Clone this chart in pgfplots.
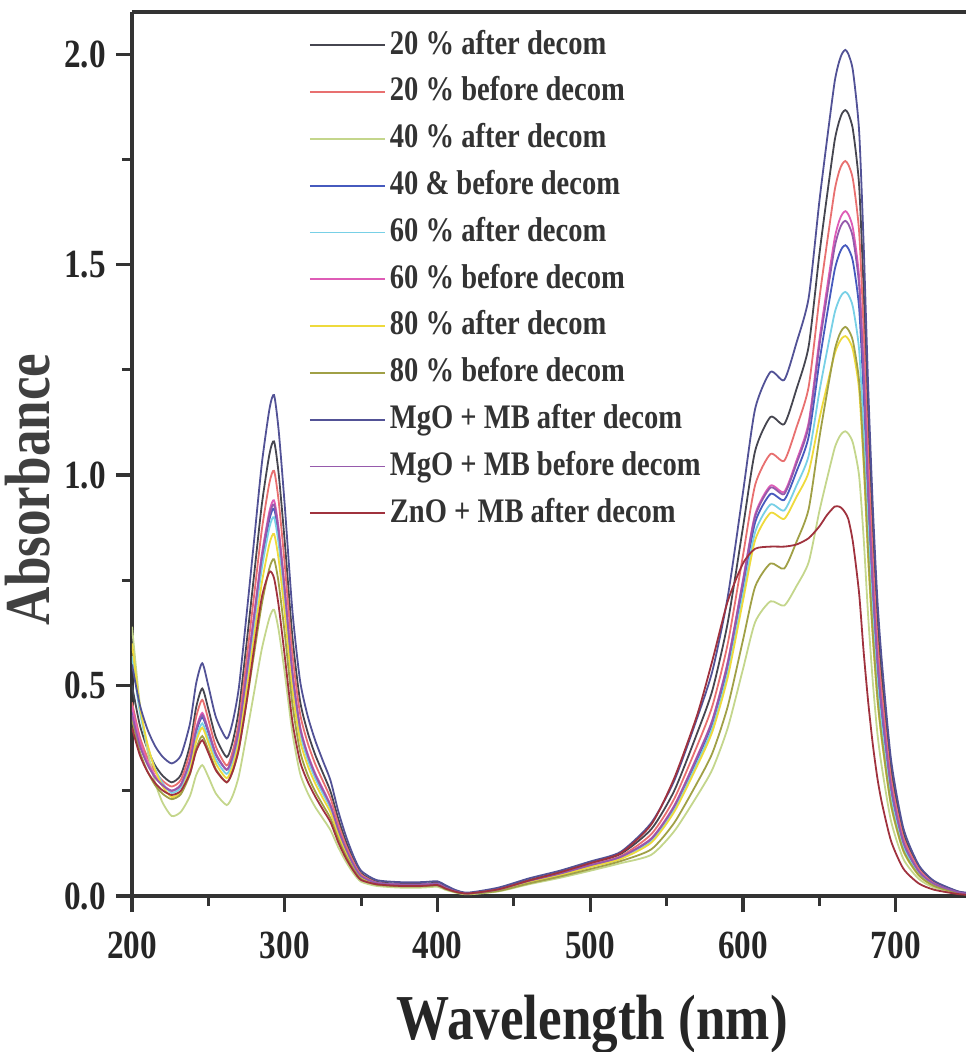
\documentclass[border=0pt]{standalone}
\usepackage{fontspec}
\setmainfont{Liberation Serif}[FakeStretch=0.83]
\usepackage{pgfplots}
\pgfplotsset{compat=1.18}
\usepackage{pgfplotstable}

\definecolor{cA}{RGB}{70,70,80}
\definecolor{cB}{RGB}{232,112,112}
\definecolor{cC}{RGB}{196,214,140}
\definecolor{cD}{RGB}{70,90,190}
\definecolor{cE}{RGB}{120,208,230}
\definecolor{cF}{RGB}{222,92,182}
\definecolor{cG}{RGB}{238,218,60}
\definecolor{cH}{RGB}{160,160,70}
\definecolor{cI}{RGB}{82,82,150}
\definecolor{cJ}{RGB}{150,90,172}
\definecolor{cK}{RGB}{160,50,62}

% absorbance spectra, one column per sample
\pgfplotstableread{
lam a b c d e f g h i j k
200 0.500 0.460 0.640 0.440 0.570 0.450 0.600 0.420 0.550 0.430 0.400
205 0.408 0.380 0.460 0.364 0.440 0.370 0.454 0.344 0.456 0.358 0.336
210 0.351 0.330 0.348 0.317 0.359 0.320 0.363 0.297 0.397 0.313 0.296
215 0.311 0.296 0.271 0.284 0.304 0.286 0.301 0.264 0.357 0.282 0.269
220 0.286 0.274 0.222 0.263 0.268 0.264 0.261 0.243 0.331 0.263 0.251
226 0.270 0.260 0.190 0.250 0.245 0.250 0.235 0.230 0.315 0.250 0.240
232 0.288 0.276 0.200 0.264 0.258 0.265 0.248 0.242 0.334 0.264 0.250
238 0.359 0.342 0.238 0.320 0.311 0.324 0.301 0.290 0.410 0.322 0.292
242 0.448 0.425 0.287 0.390 0.377 0.398 0.367 0.350 0.505 0.394 0.344
246 0.493 0.466 0.311 0.425 0.410 0.435 0.400 0.380 0.553 0.430 0.370
250 0.444 0.419 0.283 0.388 0.374 0.395 0.364 0.347 0.499 0.391 0.340
255 0.376 0.354 0.243 0.335 0.324 0.338 0.314 0.301 0.424 0.336 0.298
262 0.330 0.310 0.216 0.300 0.290 0.300 0.280 0.270 0.374 0.300 0.270
266 0.368 0.345 0.239 0.331 0.321 0.332 0.309 0.297 0.415 0.332 0.297
270 0.443 0.415 0.286 0.393 0.382 0.396 0.367 0.350 0.496 0.395 0.350
275 0.600 0.562 0.383 0.523 0.510 0.530 0.489 0.461 0.668 0.527 0.460
280 0.765 0.716 0.485 0.660 0.644 0.671 0.616 0.577 0.847 0.665 0.590
285 0.930 0.870 0.587 0.796 0.778 0.812 0.744 0.694 1.027 0.804 0.710
290 1.050 0.982 0.661 0.895 0.876 0.914 0.837 0.779 1.157 0.905 0.770
293 1.080 1.010 0.680 0.920 0.900 0.940 0.860 0.800 1.190 0.930 0.755
296 1.004 0.939 0.632 0.856 0.837 0.874 0.800 0.744 1.107 0.865 0.690
300 0.842 0.788 0.530 0.718 0.702 0.733 0.671 0.624 0.928 0.725 0.570
305 0.616 0.576 0.388 0.524 0.513 0.536 0.490 0.456 0.678 0.530 0.415
310 0.464 0.434 0.292 0.396 0.387 0.404 0.370 0.344 0.512 0.400 0.320
315 0.389 0.364 0.245 0.331 0.324 0.338 0.310 0.288 0.428 0.335 0.272
320 0.335 0.313 0.211 0.285 0.279 0.291 0.267 0.248 0.369 0.288 0.236
325 0.292 0.273 0.184 0.248 0.243 0.254 0.232 0.216 0.321 0.251 0.205
330 0.248 0.232 0.156 0.212 0.207 0.216 0.198 0.184 0.274 0.214 0.175
335 0.184 0.172 0.116 0.156 0.153 0.160 0.146 0.136 0.202 0.158 0.128
340 0.130 0.121 0.082 0.110 0.108 0.113 0.103 0.096 0.143 0.112 0.090
345 0.086 0.081 0.054 0.074 0.072 0.075 0.069 0.064 0.095 0.074 0.060
350 0.054 0.051 0.034 0.046 0.045 0.047 0.043 0.040 0.060 0.047 0.038
360 0.034 0.032 0.024 0.031 0.030 0.031 0.029 0.027 0.038 0.031 0.028
375 0.029 0.027 0.020 0.027 0.026 0.027 0.025 0.023 0.033 0.027 0.024
390 0.029 0.027 0.020 0.027 0.026 0.027 0.025 0.023 0.033 0.027 0.024
400 0.031 0.029 0.022 0.029 0.028 0.029 0.027 0.025 0.035 0.029 0.026
405 0.022 0.020 0.015 0.020 0.019 0.020 0.018 0.017 0.026 0.020 0.018
412 0.012 0.011 0.008 0.011 0.010 0.011 0.010 0.009 0.014 0.011 0.010
420 0.007 0.006 0.004 0.006 0.006 0.006 0.005 0.005 0.008 0.006 0.006
440 0.017 0.016 0.011 0.016 0.015 0.016 0.014 0.012 0.020 0.016 0.016
460 0.038 0.036 0.028 0.035 0.034 0.036 0.033 0.030 0.042 0.036 0.037
480 0.056 0.053 0.043 0.052 0.050 0.053 0.049 0.046 0.060 0.053 0.056
500 0.078 0.074 0.060 0.072 0.070 0.073 0.069 0.064 0.082 0.073 0.078
520 0.100 0.095 0.078 0.092 0.090 0.093 0.088 0.083 0.105 0.093 0.102
540 0.159 0.147 0.098 0.134 0.130 0.137 0.127 0.111 0.174 0.136 0.170
555 0.250 0.231 0.154 0.210 0.205 0.215 0.200 0.174 0.274 0.213 0.280
570 0.387 0.357 0.238 0.325 0.316 0.332 0.309 0.269 0.423 0.330 0.430
580 0.489 0.452 0.301 0.411 0.400 0.419 0.391 0.340 0.535 0.417 0.560
590 0.649 0.599 0.399 0.544 0.530 0.556 0.519 0.450 0.710 0.553 0.700
600 0.876 0.809 0.539 0.735 0.716 0.751 0.701 0.608 0.959 0.747 0.790
608 1.058 0.977 0.651 0.888 0.865 0.907 0.846 0.735 1.158 0.902 0.825
618 1.138 1.050 0.700 0.955 0.930 0.975 0.910 0.790 1.245 0.970 0.830
627 1.121 1.034 0.690 0.941 0.916 0.960 0.896 0.778 1.226 0.955 0.830
635 1.204 1.113 0.736 1.008 0.975 1.034 0.948 0.841 1.314 1.027 0.835
643 1.306 1.210 0.793 1.091 1.046 1.125 1.007 0.919 1.421 1.116 0.850
650 1.524 1.419 0.914 1.268 1.198 1.321 1.133 1.088 1.650 1.306 0.878
655 1.663 1.551 0.991 1.381 1.294 1.444 1.212 1.195 1.796 1.426 0.905
660 1.794 1.676 1.064 1.487 1.385 1.562 1.288 1.296 1.934 1.541 0.925
663 1.841 1.722 1.090 1.525 1.417 1.604 1.315 1.332 1.983 1.582 0.925
665 1.860 1.739 1.100 1.540 1.430 1.620 1.326 1.346 2.002 1.598 0.920
667 1.867 1.746 1.104 1.546 1.435 1.627 1.330 1.352 2.010 1.604 0.910
669 1.858 1.737 1.098 1.538 1.428 1.619 1.323 1.345 2.000 1.596 0.895
672 1.820 1.702 1.076 1.507 1.399 1.586 1.297 1.318 1.960 1.564 0.840
676 1.690 1.580 0.999 1.399 1.299 1.472 1.204 1.224 1.819 1.452 0.720
679 1.438 1.344 0.850 1.190 1.105 1.253 1.024 1.041 1.548 1.235 0.580
682 1.120 1.048 0.662 0.928 0.861 0.976 0.798 0.811 1.206 0.962 0.460
685 0.859 0.803 0.508 0.711 0.660 0.748 0.612 0.622 0.925 0.738 0.360
688 0.653 0.611 0.386 0.541 0.502 0.569 0.466 0.473 0.704 0.561 0.280
691 0.513 0.480 0.304 0.425 0.395 0.447 0.366 0.372 0.553 0.441 0.220
697 0.299 0.279 0.177 0.247 0.230 0.260 0.213 0.216 0.322 0.257 0.130
705 0.149 0.140 0.088 0.124 0.115 0.130 0.106 0.108 0.161 0.128 0.065
715 0.069 0.065 0.041 0.057 0.053 0.060 0.049 0.050 0.074 0.059 0.030
725 0.034 0.031 0.020 0.028 0.026 0.029 0.024 0.024 0.036 0.029 0.015
740 0.011 0.010 0.007 0.009 0.009 0.010 0.008 0.008 0.012 0.010 0.005
746 0.007 0.007 0.004 0.006 0.006 0.007 0.005 0.005 0.008 0.006 0.003
}\spectra

\begin{document}
\begin{tikzpicture}
\useasboundingbox (-33pt,-39pt) rectangle (208.5pt,224pt);
\begin{axis}[
  scale only axis, width=208.5pt, height=221pt,
  xmin=200, xmax=746, ymin=0, ymax=2.1,
  axis x line*=box, axis y line*=left,
  axis line style={-, line width=0.8pt, black!80},
  xtick={200,300,...,700}, ytick={0,0.5,...,2},
  minor x tick num=1, minor y tick num=1,
  xtick pos=bottom, ytick pos=left, tick align=outside,
  major tick length=4pt, minor tick length=2.5pt,
  tick style={black!80, line width=0.8pt},
  /pgf/number format/assume math mode=true,
  ticklabel style={font=\bfseries\fontsize{10}{12}\selectfont, black!85},
  xticklabel style={yshift=-1.5pt},
  yticklabel style={xshift=1pt, /pgf/number format/.cd, fixed, fixed zerofill, precision=1},
  xlabel={Wavelength (nm)}, ylabel={Absorbance},
  every axis x label/.style={at={(axis description cs:0.552,-0.145)}, anchor=center,
    font=\bfseries\fontsize{16}{19}\selectfont, black!85},
  every axis y label/.style={at={(axis description cs:-0.125,0.46)}, anchor=center, rotate=90,
    font=\bfseries\fontsize{16}{19}\selectfont, black!75},
  legend cell align=left,
  legend image code/.code={\draw[#1] (0pt,0pt) -- (18.75pt,0pt);},
  legend style={at={(axis description cs:0.197,0.995)}, anchor=north west,
    draw=none, fill=none, row sep=1.7pt,
    font=\bfseries\fontsize{8.6}{10}\selectfont, text=black!80,
    nodes={inner sep=1pt, text height=6.2pt, text depth=1.8pt}},
  every axis plot/.append style={line width=0.45pt, smooth, tension=0.4},
]
\addplot[cA] table[x=lam, y=a] {\spectra};
\addplot[cB] table[x=lam, y=b] {\spectra};
\addplot[cC] table[x=lam, y=c] {\spectra};
\addplot[cD] table[x=lam, y=d] {\spectra};
\addplot[cE] table[x=lam, y=e] {\spectra};
\addplot[cF] table[x=lam, y=f] {\spectra};
\addplot[cG] table[x=lam, y=g] {\spectra};
\addplot[cH] table[x=lam, y=h] {\spectra};
\addplot[cI] table[x=lam, y=i] {\spectra};
\addplot[cJ] table[x=lam, y=j] {\spectra};
\addplot[cK] table[x=lam, y=k] {\spectra};
\legend{20 \% after decom, 20 \% before decom, 40 \% after decom,
  40 \& before decom, 60 \% after decom, 60 \% before decom,
  80 \% after decom, 80 \% before decom, MgO + MB after decom,
  MgO + MB before decom, ZnO + MB after decom}
\end{axis}
\end{tikzpicture}
\end{document}
